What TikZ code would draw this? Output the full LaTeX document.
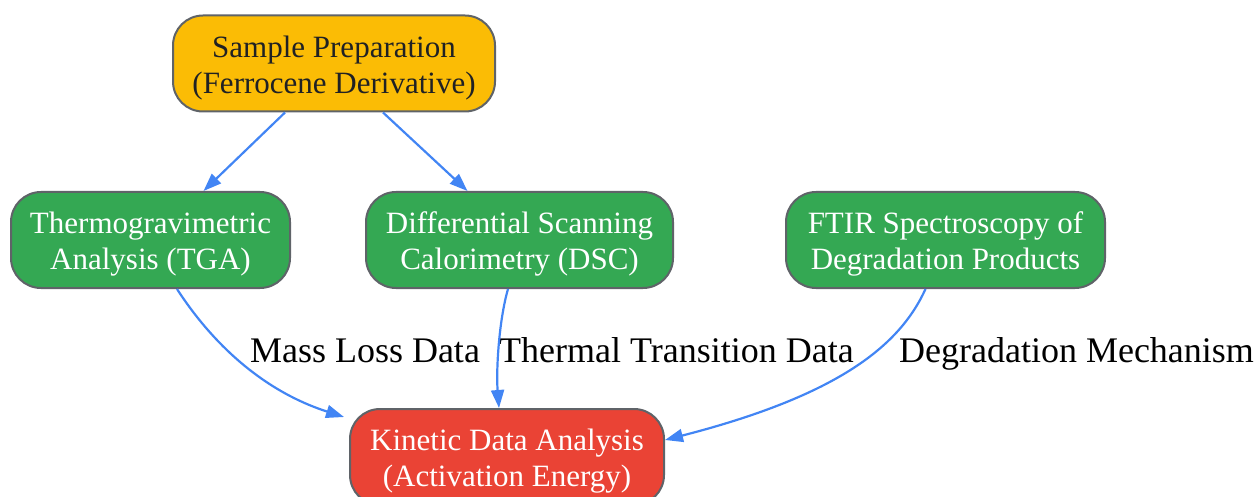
\documentclass[tikz,border=0pt]{standalone}
\usepackage{fontspec}
\setmainfont{Liberation Serif}
\usetikzlibrary{arrows.meta}
\definecolor{gyellow}{HTML}{FBBC05}
\definecolor{ggreen}{HTML}{34A853}
\definecolor{gred}{HTML}{EA4335}
\definecolor{gblue}{HTML}{4285F4}
\definecolor{gborder}{HTML}{5F6368}
\definecolor{dtext}{HTML}{202124}
\newcommand{\topstrut}{\rule{0pt}{30pt}}
\tikzset{
  box/.style={draw=gborder, line width=2pt, rounded corners=30pt, align=center,
    inner sep=0pt, minimum height=96pt, font=\fontsize{31}{36}\selectfont, text=white},
  conn/.style={draw=gblue, line width=2.2pt, -{Triangle[length=18pt,width=13pt]}},
  lbl/.style={font=\fontsize{36}{40}\selectfont, text=black, inner sep=0pt, anchor=base}
}
\begin{document}
\begin{tikzpicture}[x=1pt,y=-1pt]
\useasboundingbox (0,0) rectangle (1258,497);
\node[box, fill=gyellow, text=dtext, minimum width=322pt] (prep) at (334,63.5) {\topstrut Sample Preparation\\(Ferrocene Derivative)};
\node[box, fill=ggreen, minimum width=279pt] (tga) at (150.5,240) {\topstrut Thermogravimetric\\Analysis (TGA)};
\node[box, fill=ggreen, minimum width=307pt] (dsc) at (519.5,240) {\topstrut Differential Scanning\\Calorimetry (DSC)};
\node[box, fill=ggreen, minimum width=319pt] (ftir) at (945.5,240) {\topstrut FTIR Spectroscopy of\\Degradation Products};
\node[box, fill=gred, minimum width=314pt] (kin) at (507,457) {\topstrut Kinetic Data Analysis\\(Activation Energy)};
\node[lbl] (l1) at (365,362) {Mass Loss Data};
\node[lbl] (l2) at (676.5,362) {Thermal Transition Data};
\node[lbl] (l3) at (1076.5,362) {Degradation Mechanism};
\draw[conn] ([xshift=-49pt]prep.south) -- ([xshift=53pt]tga.north);
\draw[conn] ([xshift=49pt]prep.south) -- ([xshift=-52pt]dsc.north);
\draw[conn] ([xshift=26.5pt]tga.south) .. controls (210,340) and (260,390) .. ([xshift=-5pt,yshift=-9pt]kin.north west);
\draw[conn] ([xshift=-11.5pt]dsc.south) .. controls (499,320) and (496,370) .. ([xshift=-8pt]kin.north);
\draw[conn] ([xshift=-20pt]ftir.south) .. controls (900,345) and (840,395) .. ([yshift=17pt]kin.east);
\end{tikzpicture}
\end{document}
